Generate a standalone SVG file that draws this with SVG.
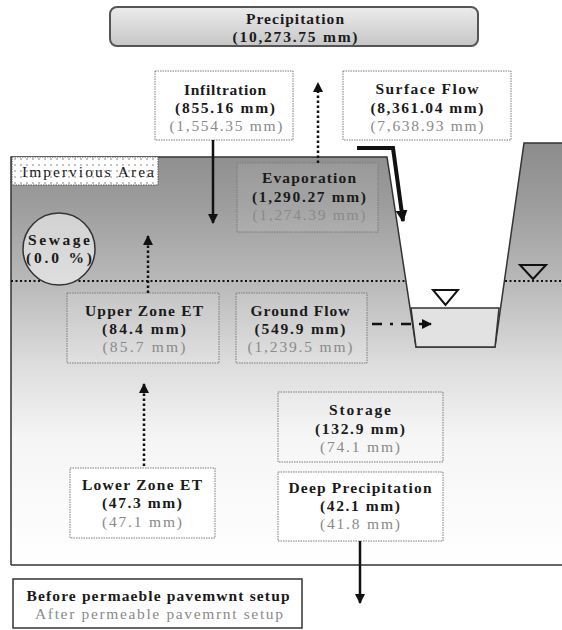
<svg xmlns="http://www.w3.org/2000/svg" width="562" height="630" viewBox="0 0 562 630">
<style>
text{font-family:"Liberation Serif","DejaVu Serif",serif;font-size:15.5px;text-anchor:middle}
.b{fill:#1a1a1a;font-weight:bold}
.g{fill:#8a8a8a}
.n{fill:#1a1a1a}
.dbox{stroke:#7a7a7a;stroke-width:1;stroke-dasharray:1.5,1}
.dot{fill:none;stroke:#111;stroke-width:2.5;stroke-dasharray:2.5,2.5}
.sol{fill:none;stroke:#111;stroke-width:2.5}
</style>
<defs>
<linearGradient id="ground" gradientUnits="userSpaceOnUse" x1="0" y1="143" x2="0" y2="565">
<stop offset="0" stop-color="#8c8c8c"/>
<stop offset="0.14" stop-color="#9c9c9c"/>
<stop offset="0.33" stop-color="#b9b9b9"/>
<stop offset="0.52" stop-color="#dcdcdc"/>
<stop offset="0.7" stop-color="#f5f5f5"/>
<stop offset="1" stop-color="#ffffff"/>
</linearGradient>
<linearGradient id="prec" x1="0" y1="0" x2="0" y2="1">
<stop offset="0" stop-color="#ececec"/>
<stop offset="1" stop-color="#c6c6c6"/>
</linearGradient>
<linearGradient id="sew" x1="0" y1="0" x2="0" y2="1">
<stop offset="0" stop-color="#d2d2d2"/>
<stop offset="1" stop-color="#dedede"/>
</linearGradient>
<pattern id="dots" width="6" height="6" patternUnits="userSpaceOnUse">
<rect width="6" height="6" fill="#fff"/>
<circle cx="3" cy="3" r="0.8" fill="#777"/>
</pattern>
<marker id="ah" viewBox="0 0 10 10" refX="9" refY="5" markerWidth="10" markerHeight="11" markerUnits="userSpaceOnUse" orient="auto">
<path d="M0,0 L10,5 L0,10 Z" fill="#111"/>
</marker>
<marker id="ahb" viewBox="0 0 10 10" refX="9" refY="5" markerWidth="12" markerHeight="12" markerUnits="userSpaceOnUse" orient="auto">
<path d="M0,0 L10,5 L0,10 Z" fill="#111"/>
</marker>
</defs>

<g id="ground-area">
<path d="M11,157 L387,157 L416,347 L495,347 L524,143 L562,143 L562,565 L11,565 Z" fill="url(#ground)" stroke="none"/>
<path d="M11,565 L11,157 L387,157 L416,347 L495,347 L524,143 L562,143" fill="none" stroke="#333" stroke-width="1.5"/>
<line x1="11" y1="565" x2="562" y2="565" stroke="#333" stroke-width="1.5"/>
<path d="M411,308 L499,308 L495,347 L416,347 Z" fill="#e2e2e2" stroke="#333" stroke-width="1.5"/>
<line x1="11" y1="281" x2="405" y2="281" stroke="#111" stroke-width="2" stroke-dasharray="2,2.5"/>
<line x1="505" y1="281" x2="562" y2="281" stroke="#111" stroke-width="2" stroke-dasharray="2,2.5"/>
<path d="M433,290 L458,290 L445.5,305 Z" fill="#fff" stroke="#111" stroke-width="2"/>
<path d="M520,265 L546,265 L533,279 Z" fill="none" stroke="#111" stroke-width="2"/>
</g>

<g id="precipitation">
<rect x="110" y="7" width="368" height="39" rx="7" fill="url(#prec)" stroke="#555" stroke-width="2"/>
<text class="b" x="295" y="24" textLength="98">Precipitation</text>
<text class="b" x="295" y="42" textLength="125">(10,273.75 mm)</text>
</g>

<g id="infiltration">
<rect class="dbox" x="155" y="71" width="138" height="69" fill="#fff"/>
<text class="b" x="225" y="95" textLength="82">Infiltration</text>
<text class="b" x="225" y="113" textLength="100">(855.16 mm)</text>
<text class="g" x="226" y="131" textLength="113">(1,554.35 mm)</text>
</g>

<g id="surface-flow">
<rect class="dbox" x="343" y="71" width="168" height="69" fill="#fff"/>
<text class="b" x="427" y="94" textLength="103">Surface Flow</text>
<text class="b" x="427" y="113" textLength="113">(8,361.04 mm)</text>
<text class="g" x="427" y="131" textLength="113">(7,638.93 mm)</text>
</g>

<g id="impervious-area">
<rect x="12" y="157" width="146" height="28" fill="url(#dots)" stroke="#555" stroke-width="1" stroke-dasharray="1.5,1"/>
<text class="n" x="88" y="177" textLength="132">Impervious Area</text>
</g>

<g id="evaporation">
<rect class="dbox" x="237" y="163" width="141" height="69" fill="#fff" fill-opacity="0.08" stroke="#555"/>
<text class="b" x="309" y="183" textLength="94">Evaporation</text>
<text class="b" x="309" y="202" textLength="114">(1,290.27 mm)</text>
<text class="g" x="309" y="220" textLength="113">(1,274.39 mm)</text>
</g>

<g id="sewage">
<circle cx="59" cy="249" r="36" fill="url(#sew)" stroke="#333" stroke-width="1.5"/>
<text class="b" x="59" y="245" textLength="62">Sewage</text>
<text class="b" x="59" y="263" textLength="66">(0.0 %)</text>
</g>

<g id="upper-zone-et">
<rect class="dbox" x="67" y="293" width="152" height="70" fill="#fff" fill-opacity="0.12"/>
<text class="b" x="144" y="316" textLength="118">Upper Zone ET</text>
<text class="b" x="144" y="334" textLength="84">(84.4 mm)</text>
<text class="g" x="144" y="352" textLength="83">(85.7 mm)</text>
</g>

<g id="ground-flow">
<rect class="dbox" x="236" y="293" width="131" height="70" fill="#fff" fill-opacity="0.12"/>
<text class="b" x="300" y="316" textLength="99">Ground Flow</text>
<text class="b" x="300" y="334" textLength="91">(549.9 mm)</text>
<text class="g" x="300" y="352" textLength="105">(1,239.5 mm)</text>
</g>

<g id="storage">
<rect class="dbox" x="278" y="392" width="165" height="70" fill="#fff" fill-opacity="0.15"/>
<text class="b" x="360" y="415" textLength="62">Storage</text>
<text class="b" x="360" y="434" textLength="90">(132.9 mm)</text>
<text class="g" x="360" y="452" textLength="80">(74.1 mm)</text>
</g>

<g id="deep-precipitation">
<rect class="dbox" x="278" y="472" width="165" height="69" fill="#fff"/>
<text class="b" x="360" y="493" textLength="143">Deep Precipitation</text>
<text class="b" x="360" y="511" textLength="80">(42.1 mm)</text>
<text class="g" x="360" y="529" textLength="80">(41.8 mm)</text>
</g>

<g id="lower-zone-et">
<rect class="dbox" x="70" y="468" width="145" height="70" fill="#fff"/>
<text class="b" x="142" y="490" textLength="120">Lower Zone ET</text>
<text class="b" x="142" y="508" textLength="80">(47.3 mm)</text>
<text class="g" x="142" y="527" textLength="80">(47.1 mm)</text>
</g>

<g id="legend">
<rect x="13" y="579" width="289" height="49" fill="#fff" stroke="#333" stroke-width="1.5"/>
<text class="b" x="158" y="601" textLength="263">Before permaeble pavemwnt setup</text>
<text class="g" x="159" y="619" textLength="248">After permeable pavemrnt setup</text>
</g>

<g id="connectors">
<line class="sol" x1="213" y1="140" x2="213" y2="223" marker-end="url(#ah)"/>
<line class="dot" x1="318" y1="163" x2="318" y2="83" marker-end="url(#ah)"/>
<path d="M357,148 L393,148 L403,221" fill="none" stroke="#111" stroke-width="4" stroke-linejoin="miter" marker-end="url(#ahb)"/>
<line class="dot" x1="148" y1="293" x2="148" y2="236" marker-end="url(#ah)"/>
<line class="dot" x1="144" y1="466" x2="144" y2="384" marker-end="url(#ah)"/>
<line x1="372" y1="324" x2="431" y2="324" stroke="#111" stroke-width="2.5" stroke-dasharray="10,8,3,8" marker-end="url(#ah)"/>
<line class="sol" x1="360" y1="541" x2="360" y2="603" marker-end="url(#ah)"/>
</g>
</svg>
